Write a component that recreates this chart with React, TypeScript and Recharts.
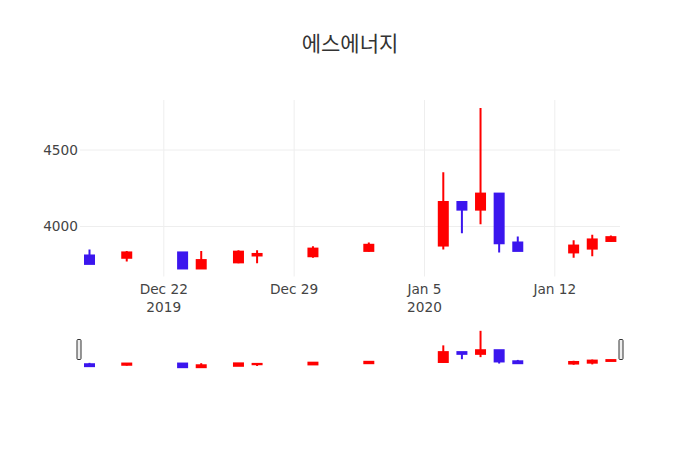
import React from 'react';
import { ComposedChart, Bar, XAxis, YAxis, CartesianGrid } from 'recharts';

// trading days and OHLC prices (KRW)
const dates = [
  '2019-12-18', '2019-12-20', '2019-12-23', '2019-12-24', '2019-12-26', '2019-12-27',
  '2019-12-30', '2020-01-02', '2020-01-06', '2020-01-07', '2020-01-08', '2020-01-09',
  '2020-01-10', '2020-01-13', '2020-01-14', '2020-01-15',
];
const opens = [3810, 3795, 3830, 3725, 3765, 3810, 3805, 3840, 3875, 4160, 4110, 4215, 3895, 3830, 3855, 3905];
const closes = [3755, 3830, 3725, 3780, 3835, 3820, 3855, 3880, 4160, 4110, 4215, 3890, 3840, 3875, 3915, 3930];
const highs = [3850, 3840, 3830, 3840, 3845, 3845, 3870, 3895, 4355, 4160, 4775, 4215, 3935, 3910, 3945, 3940];
const lows = [3755, 3770, 3725, 3725, 3760, 3760, 3795, 3835, 3850, 3955, 4015, 3830, 3840, 3795, 3805, 3900];

const tickDates = ['2019-12-22', '2019-12-29', '2020-01-05', '2020-01-12'];
const tickLabels = ['Dec 22', 'Dec 29', 'Jan 5', 'Jan 12'];
const tickYears = ['2019', '', '2020', ''];
const yTicks = [4000, 4500];

const TITLE = '에스에너지';
const UP = '#ff0000';
const DOWN = '#3b16ee';
const FONT = '"DejaVu Sans", Verdana, sans-serif';
const DAY = 86400000;

const data = dates.map((d, i) => ({
  t: Date.parse(d),
  open: opens[i],
  close: closes[i],
  high: highs[i],
  low: lows[i],
}));

const tickTimes = tickDates.map((d) => Date.parse(d));
const xDomain = [data[0].t - DAY / 2, data[data.length - 1].t + DAY / 2];
const lo = Math.min(...lows);
const hi = Math.max(...highs);
const pad = (hi - lo) * 0.05;
const yDomain = [lo - pad, hi + pad];

const Candle = (props: any) => {
  const { x, y, width, height, payload } = props;
  if (!payload) return null;
  const cx = x + width / 2;
  const top = Math.min(y, y + height);
  const bottom = Math.max(y, y + height);
  const { open, close, high, low } = payload;
  const ppu = high === low ? 0 : (bottom - top) / (high - low);
  const bodyTop = top + (high - Math.max(open, close)) * ppu;
  const bodyBottom = top + (high - Math.min(open, close)) * ppu;
  const color = close >= open ? UP : DOWN;
  return (
    <g>
      <line x1={cx} x2={cx} y1={top} y2={bottom} stroke={color} strokeWidth={2} />
      <rect
        x={cx - 4.5}
        y={bodyTop}
        width={9}
        height={Math.max(bodyBottom - bodyTop, 0)}
        fill={color}
        stroke={color}
        strokeWidth={2}
      />
    </g>
  );
};

const XTick = (props: any) => {
  const { x, y, payload } = props;
  const i = tickTimes.indexOf(payload.value);
  if (i < 0) return null;
  return (
    <text x={x} y={y} textAnchor="middle" fill="#444" fontSize={13.7} fontFamily={FONT}>
      <tspan x={x} dy={17}>{tickLabels[i]}</tspan>
      {tickYears[i] && <tspan x={x} dy={18.3}>{tickYears[i]}</tspan>}
    </text>
  );
};

const rangeOf = (d: any) => [d.low, d.high];

export default function App() {
  return (
    <div style={{ position: 'absolute', left: 0, top: 0, width: 700, height: 450, background: '#fff' }}>
      <div style={{ position: 'absolute', left: 0, top: 0 }}>
        <ComposedChart width={700} height={450} data={data} margin={{ top: 100, right: 80, bottom: 133.5, left: 0 }}>
          {/* syncWithTicks: grid lines only at the ticks, no frame */}
          <CartesianGrid stroke="#eee" strokeWidth={1} syncWithTicks />
          <XAxis
            dataKey="t"
            type="number"
            domain={xDomain}
            allowDataOverflow
            ticks={tickTimes}
            height={40}
            axisLine={false}
            tickLine={false}
            tickSize={0}
            tickMargin={0}
            tick={<XTick />}
            interval={0}
          />
          <YAxis
            type="number"
            domain={yDomain}
            allowDataOverflow
            ticks={yTicks}
            width={80}
            axisLine={false}
            tickLine={false}
            tickSize={0}
            tickMargin={2}
            tick={{ fill: '#444', fontSize: 13.7, fontFamily: FONT }}
          />
          <Bar dataKey={rangeOf} barSize={11} shape={<Candle />} isAnimationActive={false} />
        </ComposedChart>
      </div>
      <div style={{ position: 'absolute', left: 0, top: 0 }}>
        <ComposedChart width={700} height={450} data={data} margin={{ top: 329, right: 80, bottom: 81, left: 80 }}>
          <XAxis dataKey="t" type="number" domain={xDomain} allowDataOverflow hide />
          <YAxis type="number" domain={yDomain} allowDataOverflow hide />
          <Bar dataKey={rangeOf} barSize={11} shape={<Candle />} isAnimationActive={false} />
        </ComposedChart>
      </div>
      <svg width={700} height={450} style={{ position: 'absolute', left: 0, top: 0, pointerEvents: 'none' }}>
        <text x={350} y={51} textAnchor="middle" fill="#333" fontSize={21} fontFamily='"Noto Sans CJK KR", sans-serif'>
          {TITLE}
        </text>
        <rect x={77} y={339.5} width={4} height={20} rx={1} fill="#eee" stroke="#333" strokeWidth={1} />
        <rect x={619} y={339.5} width={4} height={20} rx={1} fill="#eee" stroke="#333" strokeWidth={1} />
      </svg>
    </div>
  );
}
